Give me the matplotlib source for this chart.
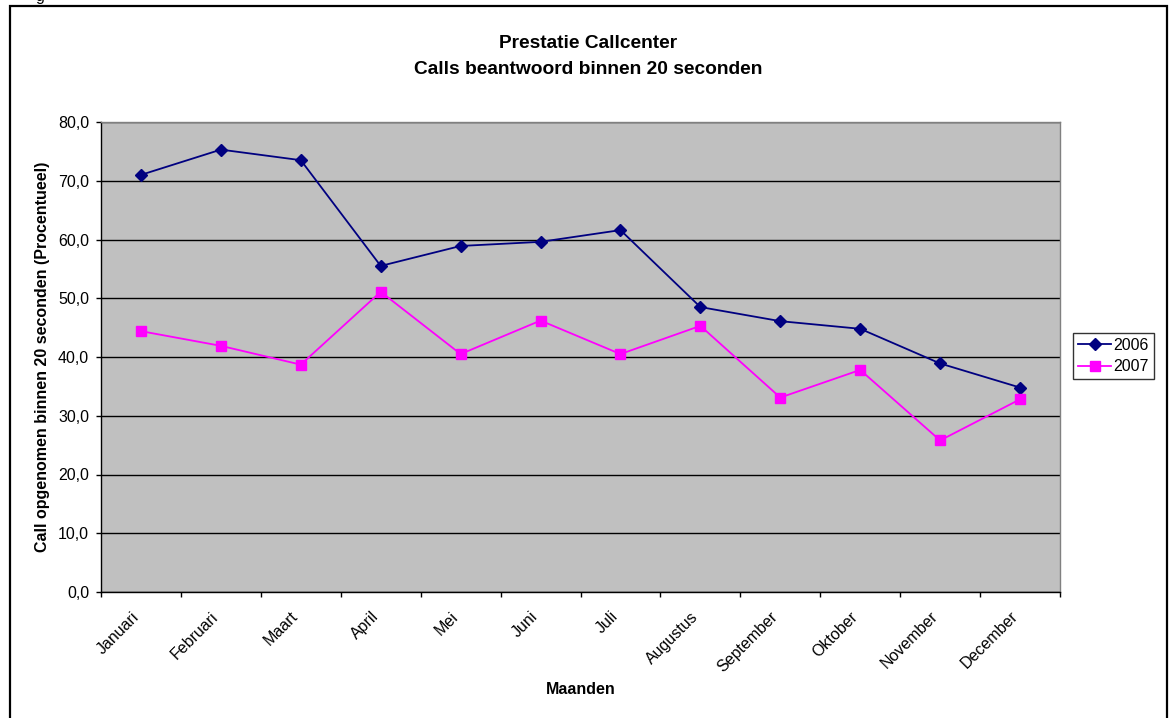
import matplotlib.pyplot as plt
from matplotlib.patches import Rectangle

plt.rcParams['font.family'] = ['Liberation Sans', 'DejaVu Sans']

# Monthly share of calls answered within 20 seconds (percent)
months = ['Januari', 'Februari', 'Maart', 'April', 'Mei', 'Juni', 'Juli',
          'Augustus', 'September', 'Oktober', 'November', 'December']
calls_2006 = [71.0, 75.3, 73.5, 55.5, 58.9, 59.6, 61.6, 48.5, 46.1, 44.8, 38.9, 34.8]
calls_2007 = [44.4, 41.9, 38.7, 51.1, 40.5, 46.2, 40.5, 45.3, 33.1, 37.8, 25.8, 32.8]
y_ticks = [0, 10, 20, 30, 40, 50, 60, 70, 80]

FS = 11.5      # base font size
W, H = 1169, 718
fig = plt.figure(figsize=(W / 100, H / 100), dpi=100)
ax = fig.add_axes([101 / W, 1 - 592 / H, (1060 - 101) / W, (592 - 122) / H])
ax.set_facecolor('#C0C0C0')

x = list(range(len(months)))
ax.plot(x, calls_2006, color='#000080', lw=1.3, marker='D', ms=6.5,
        mec='#000080', mfc='#000080', label='2006', zorder=3)
ax.plot(x, calls_2007, color='#FF00FF', lw=1.3, marker='s', ms=6.5,
        mec='#FF00FF', mfc='#FF00FF', label='2007', zorder=3)

ax.set_xlim(-0.5, len(months) - 0.5)
ax.set_ylim(0, 80)

# category boundaries get the tick marks, labels sit just left of the centres
ax.set_xticks([i - 0.5 for i in range(len(months) + 1)])
ax.set_xticklabels([])
ax.set_xticks([i - 0.06 for i in x], minor=True)
ax.set_xticklabels(months, minor=True, rotation=45, ha='right', va='center',
                   rotation_mode='anchor', fontsize=FS)
ax.tick_params(axis='x', which='minor', length=0, pad=16)
ax.tick_params(axis='x', which='major', length=3.6, width=1, direction='out')

ax.set_yticks(y_ticks)
ax.set_yticklabels([f'{v:.1f}'.replace('.', ',') for v in y_ticks], fontsize=FS)
ax.tick_params(axis='y', length=3.6, width=1, direction='out', pad=5)

ax.yaxis.grid(True, color='black', lw=1)
ax.set_axisbelow(True)

for side in ('top', 'right'):
    ax.spines[side].set_color('#808080')
    ax.spines[side].set_linewidth(1)
for side in ('left', 'bottom'):
    ax.spines[side].set_color('black')
    ax.spines[side].set_linewidth(1)

ax.set_xlabel('Maanden', fontsize=FS, fontweight='bold', va='center')
ax.xaxis.set_label_coords(0.5, (592 - 690) / 470)
ax.set_ylabel('Call opgenomen binnen 20 seconden (Procentueel)',
              fontsize=FS, fontweight='bold', va='center')
ax.yaxis.set_label_coords((43 - 101) / 959, 0.5)

fig.text(588 / W, 1 - 44 / H, 'Prestatie Callcenter', ha='center', va='center',
         fontsize=13.8, fontweight='bold')
fig.text(588 / W, 1 - 69 / H, 'Calls beantwoord binnen 20 seconden',
         ha='center', va='center', fontsize=13.8, fontweight='bold')

leg = ax.legend(loc='upper left', bbox_to_anchor=(1073 / W, 1 - 333 / H),
                bbox_transform=fig.transFigure, frameon=True, fancybox=False,
                fontsize=FS, handlelength=2.1, handletextpad=0.15,
                borderpad=0.3, labelspacing=0.4, borderaxespad=0)
leg.get_frame().set_edgecolor('black')
leg.get_frame().set_linewidth(1)

# chart frame (open at the bottom edge of the image)
fig.add_artist(Rectangle((10 / W, -0.05), (1167 - 10) / W, (H - 6) / H + 0.05,
                         transform=fig.transFigure, fill=False,
                         edgecolor='black', lw=1.6, clip_on=False))
fig.text(40 / W, 1 - 1 / H, 'g', ha='center', va='baseline', fontsize=FS)

fig.savefig('out.png', dpi=100)
